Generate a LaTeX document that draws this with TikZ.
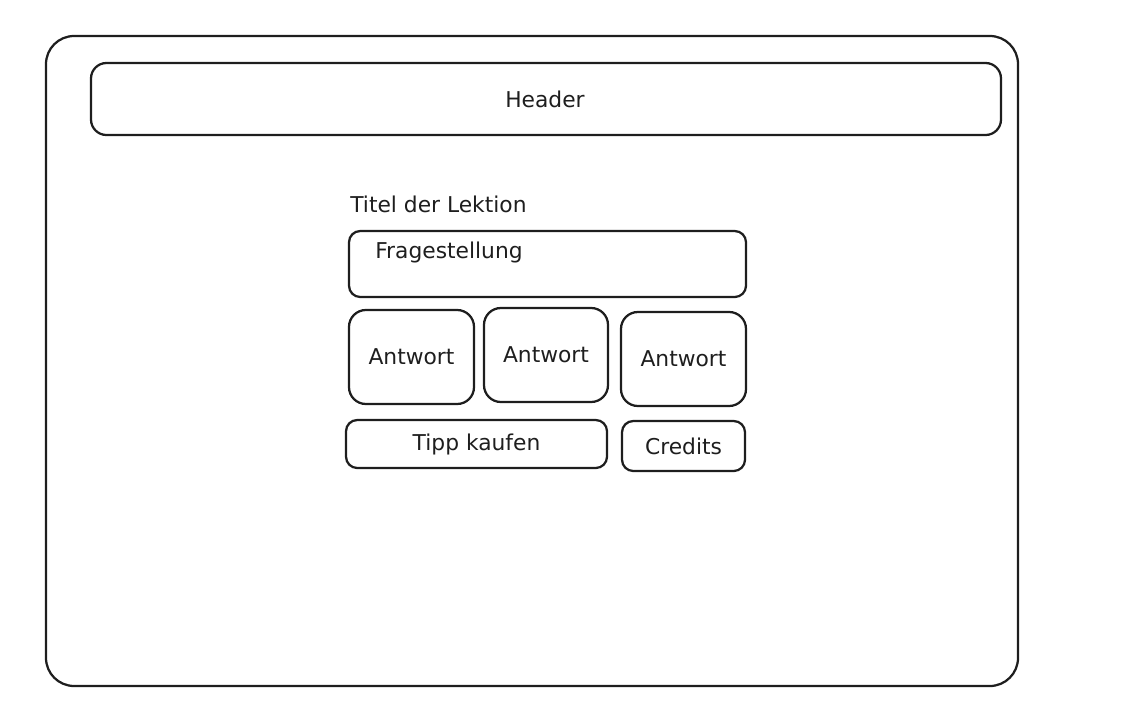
\documentclass[tikz,border=0pt]{standalone}
\usepackage{fontspec}
\setmainfont{DejaVu Sans}
\definecolor{ink}{RGB}{30,30,30}
\tikzset{
  frame/.style={draw=ink,line width=1.6pt,rounded corners=8pt},
  label/.style={text=ink,font=\fontsize{15.5}{18}\selectfont,inner sep=0pt}
}
\begin{document}
\begin{tikzpicture}[x=0.025cm,y=-0.025cm]
\useasboundingbox (0,0) rectangle (1133,705);
% aeusserer Rahmen
\draw[frame,rounded corners=20pt] (46,36) rectangle (1018,686);
% Header
\draw[frame,rounded corners=11pt] (91,63) rectangle (1001,135);
\node[label] (header) at (545,99) {Header};
% Lektion
\node[label,anchor=west] (titel) at (350,204) {Titel der Lektion};
\draw[frame] (349,231) rectangle (746,297);
\node[label,anchor=west] (frage) at (375,252) {Fragestellung};
% Antworten
\foreach \xa/\xb/\ya/\yb/\n in {349/474/310/404/1,484/608/308/402/2,621/746/312/406/3}{
  \draw[frame,rounded corners=12pt] (\xa,\ya) rectangle (\xb,\yb);
  \node[label] (antwort\n) at ({(\xa+\xb)/2},{(\ya+\yb)/2}) {Antwort};
}
% Tipp und Credits
\draw[frame] (346,420) rectangle (607,468);
\node[label] (tipp) at (476.5,444) {Tipp kaufen};
\draw[frame] (622,421) rectangle (745,471);
\node[label] (credits) at (683.5,446) {Credits};
\end{tikzpicture}
\end{document}
